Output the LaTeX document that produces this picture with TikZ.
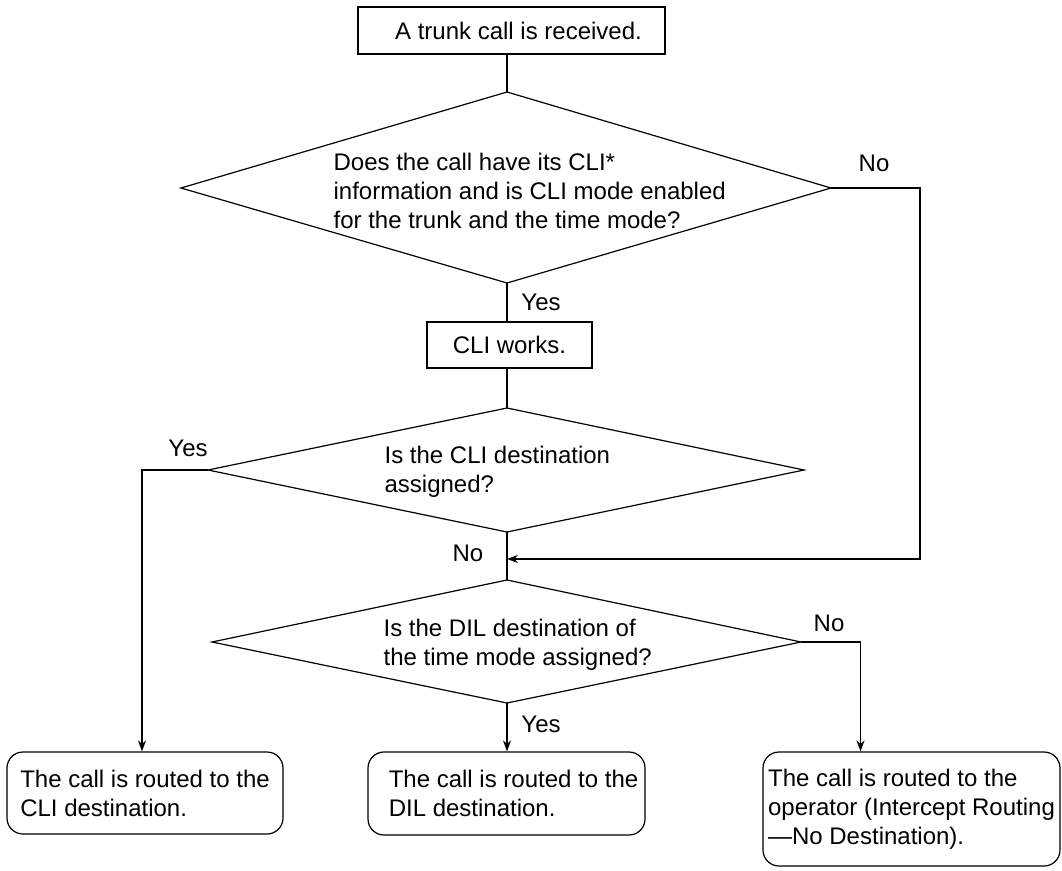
\documentclass[tikz,border=0pt]{standalone}
\usepackage{fontspec}
\setmainfont{Liberation Sans}
\usetikzlibrary{arrows.meta}
\begin{document}
\begin{tikzpicture}[x=1pt,y=-1pt,
  line width=1.2pt,
  txt/.style={font=\fontsize{24}{29}\selectfont, inner sep=0pt},
  procbox/.style={draw, txt, align=left, minimum height=47pt},
  endbox/.style={draw, rounded corners=16pt, txt, align=left},
  arr/.style={-{Stealth[length=11pt,width=8pt]}},
  lbl/.style={txt}]
\useasboundingbox (0,0) rectangle (1062,870);

% start box
\node[procbox, minimum width=307pt] (start) at (511.5,30.5) {\hspace*{14pt}A trunk call is received.};

% diamond 1
\coordinate (d1t) at (507,92);
\coordinate (d1l) at (181,188);
\coordinate (d1r) at (831,188);
\coordinate (d1b) at (507,283);
\draw (d1t) -- (d1r) -- (d1b) -- (d1l) -- cycle;
\node[txt, align=left, anchor=west] (q1) at (333,191) {Does the call have its CLI*\\information and is CLI mode enabled\\for the trunk and the time mode?};

% CLI works
\node[procbox, minimum width=165pt, minimum height=46pt] (cli) at (509.5,345) {CLI works.};

% diamond 2
\coordinate (d2t) at (507,408);
\coordinate (d2l) at (208,470);
\coordinate (d2r) at (804,470);
\coordinate (d2b) at (507,532);
\draw (d2t) -- (d2r) -- (d2b) -- (d2l) -- cycle;
\node[txt, align=left, anchor=west] (q2) at (384,472) {Is the CLI destination\\assigned?};

% diamond 3
\coordinate (d3t) at (507,580);
\coordinate (d3l) at (212,642);
\coordinate (d3r) at (801,642);
\coordinate (d3b) at (507,703);
\draw (d3t) -- (d3r) -- (d3b) -- (d3l) -- cycle;
\node[txt, align=left, anchor=west] (q3) at (383,645) {Is the DIL destination of\\the time mode assigned?};

% end boxes
\node[endbox, minimum width=276pt, minimum height=82pt] (box1) at (145,793) {The call is routed to the\\CLI destination.};
\node[endbox, minimum width=277pt, minimum height=83pt] (box2) at (506.5,793.5) {\hspace*{14pt}The call is routed to the\\\hspace*{14pt}DIL destination.};
\node[endbox, minimum width=297pt, minimum height=114pt] (box3) at (911.5,809) {The call is routed to the\\operator (Intercept Routing\\---No Destination).};

% join point
\coordinate (join) at (507,559);

% connectors
\draw (start.south -| d1t) -- (d1t);
\draw (d1b) -- (cli.north -| d1b);
\draw (cli.south -| d2t) -- (d2t);
\draw (d2b) -- (d3t);
\draw[arr] (d1r) -- ++(89,0) |- (join);
\draw[arr] (d2l) -| ([xshift=-3pt]box1.north);
\draw[arr] (d3b) -- (box2.north -| d3b);
\draw[arr] (d3r) -| ([xshift=-51pt]box3.north);

% labels
\node[lbl] (no1) at (874,163) {No};
\node[lbl] (yes1) at (541,302) {Yes};
\node[lbl] (yes2) at (188,448) {Yes};
\node[lbl] (no2) at (468,553) {No};
\node[lbl] (no3) at (829,623) {No};
\node[lbl] (yes3) at (541,724) {Yes};
\end{tikzpicture}
\end{document}
